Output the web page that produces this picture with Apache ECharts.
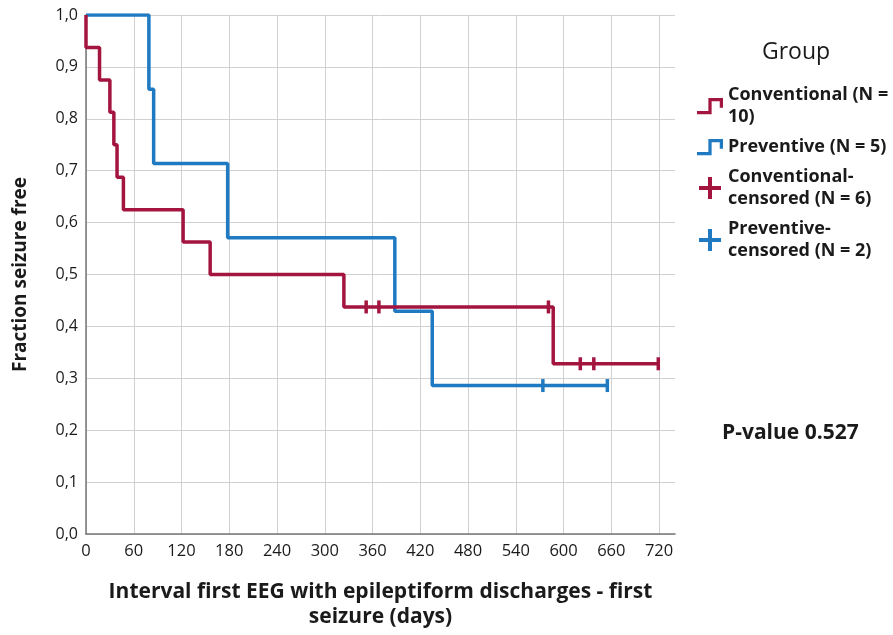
<!DOCTYPE html>
<html>
<head>
<meta charset="utf-8">
<script src="https://cdn.jsdelivr.net/npm/echarts@6/dist/echarts.min.js"></script>
<style>html,body{margin:0;padding:0;background:#fff}#c{width:893px;height:635px}</style>
</head>
<body>
<div id="c"></div>
<script>
// ---- data ----
const xTicks = [0, 60, 120, 180, 240, 300, 360, 420, 480, 540, 600, 660, 720];
const yTicks = [0, 0.1, 0.2, 0.3, 0.4, 0.5, 0.6, 0.7, 0.8, 0.9, 1.0];

const convEventDays = [0, 17, 30, 35, 39, 47, 122, 156, 324, 587];
const convSurvival  = [0.9375, 0.875, 0.8125, 0.75, 0.6875, 0.625, 0.5625, 0.5, 0.4375, 0.328];
const convCensorDays = [352, 368, 581, 621, 638, 719];
const convLastDay = 719;

const prevEventDays = [79, 85, 178, 388, 435];
const prevSurvival  = [0.857, 0.714, 0.571, 0.429, 0.286];
const prevCensorDays = [574, 655];
const prevLastDay = 655;

const legendNames = ['Conventional (N =\n10)', 'Preventive (N = 5)', 'Conventional-\ncensored (N = 6)', 'Preventive-\ncensored (N = 2)'];
const legendTitle = 'Group';
const pValueText = 'P-value 0.527';

// ---- helpers ----
function stepPoints(days, surv, lastDay) {
  const pts = [[0, 1]];
  let prev = 1;
  for (let i = 0; i < days.length; i++) {
    pts.push([days[i], prev]);
    pts.push([days[i], surv[i]]);
    prev = surv[i];
  }
  pts.push([lastDay, prev]);
  return pts;
}
function survAt(days, surv, t) {
  let s = 1;
  for (let i = 0; i < days.length; i++) if (days[i] <= t) s = surv[i];
  return s;
}
const RED = '#a3153f', BLUE = '#1f7ac2';
const FONT = 'Open Sans';
const TXT = '#1a1a1a';
const stepIcon = 'path://M0,8 L7,8 L7,0 L16,0 L16,6 L14,6 L14,2 L9,2 L9,10 L0,10 Z';
const plusIcon = 'path://M9,0 L13,0 L13,9 L22,9 L22,13 L13,13 L13,22 L9,22 L9,13 L0,13 L0,9 L9,9 Z';

const chart = echarts.init(document.getElementById('c'));
chart.setOption({
  animation: false,
  textStyle: { fontFamily: FONT },
  grid: { left: 86, right: 218, top: 15, bottom: 96 },
  xAxis: {
    type: 'value', min: 0, max: 740, interval: 60,
    name: 'Interval first EEG with epileptiform discharges - first\nseizure (days)',
    nameLocation: 'middle', nameGap: 46,
    nameTextStyle: { fontSize: 21, fontWeight: 'bold', color: TXT, lineHeight: 25, fontFamily: FONT },
    axisLine: { show: true, lineStyle: { color: '#777', width: 1.5 } },
    axisTick: { show: false },
    axisLabel: { fontSize: 16.5, color: TXT, margin: 9, fontFamily: FONT,
      formatter: v => xTicks.indexOf(v) >= 0 ? String(v) : '', showMaxLabel: false },
    splitLine: { show: true, showMaxLine: false, lineStyle: { color: '#d0d0d0', width: 1 } }
  },
  yAxis: {
    type: 'value', min: 0, max: 1, interval: 0.1,
    name: 'Fraction seizure free', nameLocation: 'middle', nameGap: 56,
    nameTextStyle: { fontSize: 19, fontWeight: 'bold', color: TXT, fontFamily: FONT },
    axisLine: { show: true, lineStyle: { color: '#777', width: 1.5 } },
    axisTick: { show: false },
    axisLabel: { fontSize: 16, color: TXT, margin: 8, fontFamily: FONT,
      formatter: v => yTicks.some(t => Math.abs(t - v) < 1e-9) ? v.toFixed(1).replace('.', ',') : '' },
    splitLine: { show: true, lineStyle: { color: '#d0d0d0', width: 1 } }
  },
  legend: {
    orient: 'vertical', left: 692, top: 79, itemGap: 8,
    itemWidth: 26, itemHeight: 22,
    data: [
      { name: 'conv', icon: stepIcon },
      { name: 'prev', icon: stepIcon },
      { name: 'convC', icon: plusIcon },
      { name: 'prevC', icon: plusIcon }
    ],
    formatter: n => ({ conv: legendNames[0], prev: legendNames[1], convC: legendNames[2], prevC: legendNames[3] })[n],
    textStyle: { fontSize: 18, fontWeight: 'bold', color: TXT, lineHeight: 22, fontFamily: FONT },
    selectedMode: false
  },
  graphic: [
    { type: 'text', x: 796, y: 52, style: { text: legendTitle, font: '23px "Open Sans"', fill: TXT, align: 'center', verticalAlign: 'middle' } },
    { type: 'text', x: 722, y: 433, style: { text: pValueText, font: 'bold 21px "Open Sans"', fill: TXT, align: 'left', verticalAlign: 'middle' } }
  ],
  series: [
    { name: 'conv', type: 'line', data: stepPoints(convEventDays, convSurvival, convLastDay),
      showSymbol: false, color: RED, lineStyle: { width: 3.5, color: RED }, z: 3 },
    { name: 'prev', type: 'line', data: stepPoints(prevEventDays, prevSurvival, prevLastDay),
      showSymbol: false, color: BLUE, lineStyle: { width: 3.5, color: BLUE }, z: 2 },
    { name: 'convC', type: 'scatter', color: RED,
      data: convCensorDays.map(d => [d, survAt(convEventDays, convSurvival, d)]),
      symbol: 'rect', symbolSize: [3.5, 13], itemStyle: { color: RED, opacity: 1 }, z: 4 },
    { name: 'prevC', type: 'scatter', color: BLUE,
      data: prevCensorDays.map(d => [d, survAt(prevEventDays, prevSurvival, d)]),
      symbol: 'rect', symbolSize: [3.5, 13], itemStyle: { color: BLUE, opacity: 1 }, z: 4 }
  ]
});
</script>
</body>
</html>
